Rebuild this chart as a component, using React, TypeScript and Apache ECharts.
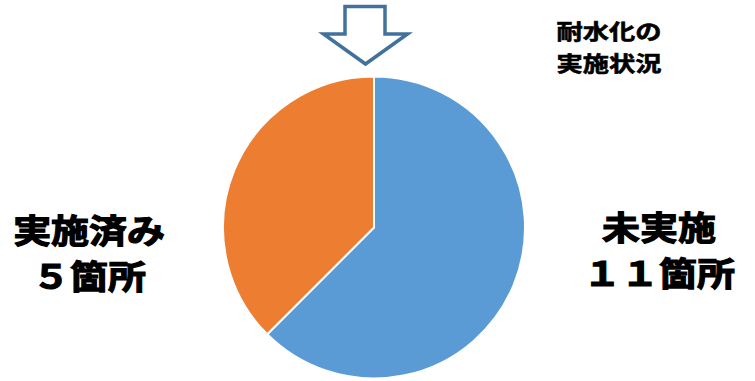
import React, { useEffect, useRef } from "react";
import * as echarts from "echarts";

const categories = ["未実施", "実施済み"];
const sliceValues = [10, 6];
const sliceColors = ["#5B9BD5", "#ED7D31"];
const titleLines = "耐水化の\n実施状況";
const rightLabel = "未実施\n１１箇所";
const leftLabel = "実施済み\n５箇所";

export default function App() {
  const ref = useRef<HTMLDivElement>(null);
  useEffect(() => {
    if (!ref.current) return;
    const chart = echarts.init(ref.current, undefined, { renderer: "svg" });
    const font = '"Noto Sans CJK JP", "Noto Sans", sans-serif';
    chart.setOption({
      animation: false,
      backgroundColor: "#ffffff",
      series: [
        {
          type: "pie",
          center: [374, 227.5],
          radius: [0, 151],
          startAngle: 90,
          clockwise: true,
          label: { show: false },
          labelLine: { show: false },
          emphasis: { disabled: true },
          itemStyle: { borderColor: "#ffffff", borderWidth: 2 },
          data: categories.map((name, i) => ({
            name,
            value: sliceValues[i],
            itemStyle: { color: sliceColors[i] },
          })),
        },
      ],
      graphic: [
        {
          type: "polygon",
          shape: {
            points: [
              [345, 6.5],
              [385, 6.5],
              [385, 34],
              [407.5, 34],
              [365.5, 64],
              [323.5, 34],
              [345, 34],
            ],
          },
          style: { fill: "#ffffff", stroke: "#41719C", lineWidth: 3.5, lineJoin: "miter" },
        },
        {
          type: "text",
          x: 609,
          y: 14,
          scaleX: 1.25,
          style: {
            x: 0,
            y: 0,
            text: titleLines,
            font: `bold 21px ${font}`,
            fill: "#000000",
            stroke: "#000000",
            lineWidth: 0.6,
            textAlign: "center",
            textVerticalAlign: "top",
            lineHeight: 32,
          },
        },
        {
          type: "text",
          x: 89,
          y: 206,
          scaleX: 1.15,
          style: {
            x: 0,
            y: 0,
            text: leftLabel,
            font: `bold 33px ${font}`,
            fill: "#000000",
            stroke: "#000000",
            lineWidth: 1.2,
            textAlign: "center",
            textVerticalAlign: "top",
            lineHeight: 46,
          },
        },
        {
          type: "text",
          x: 659,
          y: 203,
          scaleX: 1.15,
          style: {
            x: 0,
            y: 0,
            text: rightLabel,
            font: `bold 33px ${font}`,
            fill: "#000000",
            stroke: "#000000",
            lineWidth: 1.2,
            textAlign: "center",
            textVerticalAlign: "top",
            lineHeight: 46,
          },
        },
      ],
    });
    return () => chart.dispose();
  }, []);
  return (
    <div
      ref={ref}
      style={{ position: "absolute", left: 0, top: 0, width: 755, height: 381 }}
    />
  );
}
